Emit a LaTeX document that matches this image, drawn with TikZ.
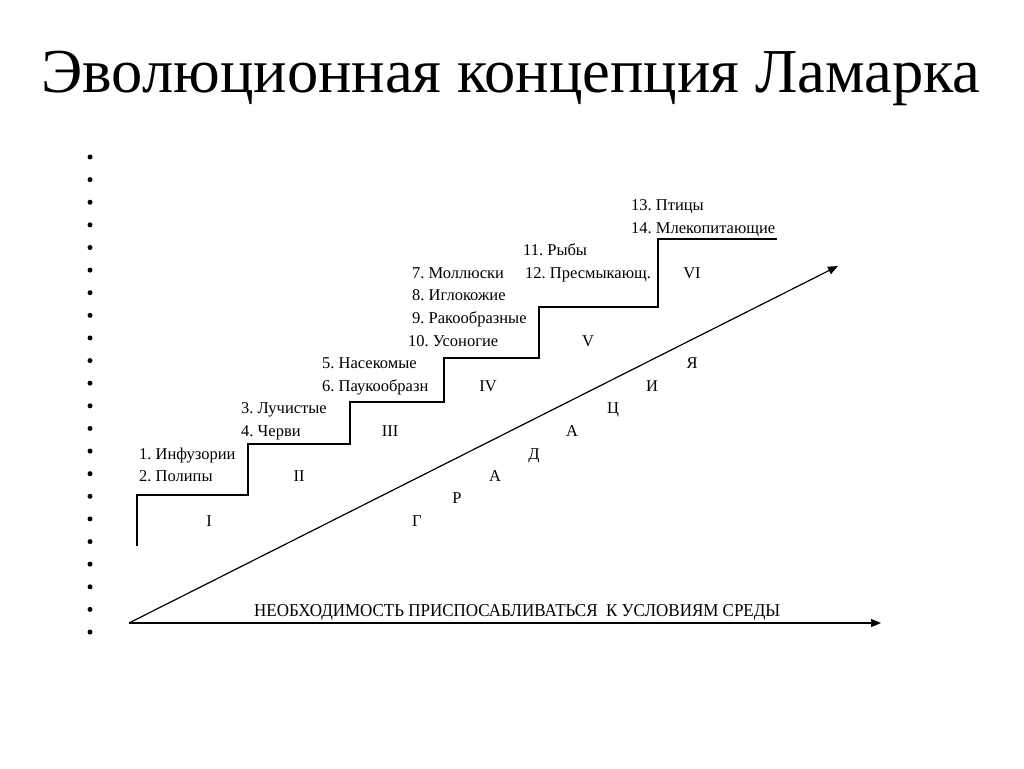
\documentclass[tikz,border=0pt]{standalone}
\usepackage{fontspec}
\setmainfont{Liberation Serif}
\usetikzlibrary{arrows.meta}
\frenchspacing
\begin{document}
\begin{tikzpicture}[x=1pt,y=-1pt,
  lbl/.style={anchor=base west,inner sep=0pt,font=\fontsize{16.5}{18}\selectfont},
  ltr/.style={anchor=base,inner sep=0pt,font=\fontsize{16.5}{18}\selectfont},
  stair/.style={line width=1.2pt,line join=miter},
  arr/.style={line width=1.2pt,-{Triangle[length=10pt,width=8pt]}},
  bul/.style={circle,fill=black,inner sep=0pt,minimum size=5pt}]
\useasboundingbox (0,0) rectangle (1024,768);
% title
\node[anchor=base,inner sep=0pt,font=\fontsize{62.5}{70}\selectfont] (title) at (511,92) {Эволюционная концепция Ламарка};
% bullets
\foreach \k in {0,...,21}{
  \node[bul] (b\k) at (90,{157+22.62*\k}) {};
}
% staircase
\draw[stair] (137,546) -- (137,495) -- (248,495) -- (248,444) -- (350,444) -- (350,402)
  -- (444,402) -- (444,358) -- (539,358) -- (539,307) -- (658,307) -- (658,239) -- (777,239);
% arrows
\coordinate (o) at (129,623);
\coordinate (tipd) at (838,266);
\coordinate (tiph) at (881,623);
\draw[arr] (o) -- (tipd);
\draw[arr] (o) -- (tiph);
% labels
\node[lbl] (t1) at (139,459) {1. Инфузории};
\node[lbl] (t2) at (139,481) {2. Полипы};
\node[lbl] (t3) at (241,413) {3. Лучистые};
\node[lbl] (t4) at (241,436) {4. Черви};
\node[lbl] (t5) at (322,368) {5. Насекомые};
\node[lbl] (t6) at (322,391) {6. Паукообразн};
\node[lbl] (t7) at (412,278) {7. Моллюски};
\node[lbl] (t8) at (412,300) {8. Иглокожие};
\node[lbl] (t9) at (412,323) {9. Ракообразные};
\node[lbl] (t10) at (408,346) {10. Усоногие};
\node[lbl] (t11) at (523,255) {11. Рыбы};
\node[lbl] (t12) at (525,278) {12. Пресмыкающ.};
\node[lbl] (t13) at (631,210) {13. Птицы};
\node[lbl] (t14) at (631,233) {14. Млекопитающие};
% roman numerals
\node[ltr] (r1) at (209,526) {I};
\node[ltr] (r2) at (299,481) {II};
\node[ltr] (r3) at (390,436) {III};
\node[ltr] (r4) at (488,391) {IV};
\node[ltr] (r5) at (588,346) {V};
\node[ltr] (r6) at (692,278) {VI};
% градация
\node[ltr] (g1) at (417,526) {Г};
\node[ltr] (g2) at (457,503) {Р};
\node[ltr] (g3) at (495,481) {А};
\node[ltr] (g4) at (534,459) {Д};
\node[ltr] (g5) at (572,436) {А};
\node[ltr] (g6) at (613,413) {Ц};
\node[ltr] (g7) at (652,391) {И};
\node[ltr] (g8) at (692,368) {Я};
% bottom text
\node[anchor=base west,inner sep=0pt] (need) at (254,616) {\resizebox{526pt}{12pt}{НЕОБХОДИМОСТЬ ПРИСПОСАБЛИВАТЬСЯ\ \ К УСЛОВИЯМ СРЕДЫ}};
\end{tikzpicture}
\end{document}
